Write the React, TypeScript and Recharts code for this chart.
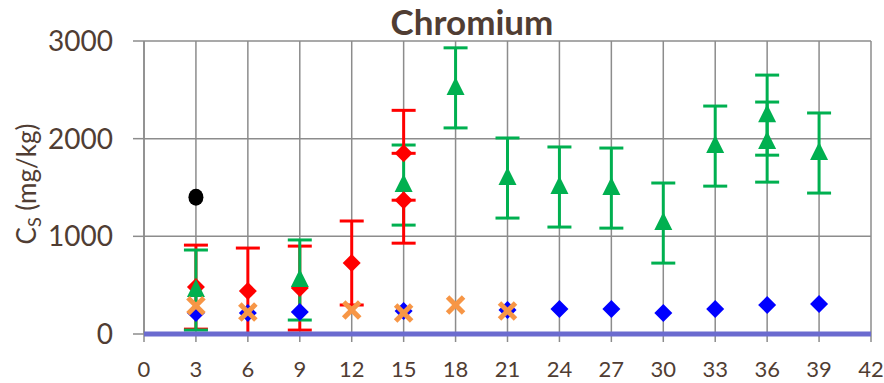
import React from "react";
import { ScatterChart, Scatter, XAxis, YAxis, CartesianGrid, ErrorBar } from "recharts";

const xTicks = [0, 3, 6, 9, 12, 15, 18, 21, 24, 27, 30, 33, 36, 39, 42];
const yTicks = [0, 1000, 2000, 3000];

const zeroX = [0, 42];
const zeroY = [0, 0];

// red error bars as [down, up]
const redX = [3, 6, 9, 12];
const redY = [480, 440, 470, 727];
const redErr = [
  [430, 430],
  [440, 440],
  [430, 430],
  [430, 430],
];

// second red set at day 15, drawn above the green series
const red2X = [15, 15];
const red2Y = [1850, 1370];
const red2Err = [
  [0, 440],
  [440, 0],
];

const greenX = [3, 9, 15, 18, 21, 24, 27, 30, 33, 36, 36, 39];
const greenY = [450, 553, 1525, 2520, 1597, 1505, 1494, 1136, 1924, 2241, 1965, 1853];
const greenErr = [410, 410, 410, 410, 410, 410, 410, 410, 410, 410, 410, 410];

const blueX = [3, 6, 9, 15, 21, 24, 27, 30, 33, 36, 39];
const blueY = [215, 215, 225, 235, 245, 256, 256, 215, 256, 297, 307];

const orangeX = [3, 6, 12, 15, 18, 21];
const orangeY = [290, 225, 245, 215, 297, 235];

const blackX = [3];
const blackY = [1400];

const TEXT = "#503d33";
const GRID = "#8c8c8c";
const FONT = "Lato, 'Open Sans', sans-serif";

const zip = (xs: number[], ys: number[], errs?: any[]) =>
  xs.map((x, i) => ({ x, y: ys[i], err: errs ? errs[i] : 0 }));

const Diamond = (color: string, r: number) => (p: any) => (
  <polygon
    points={`${p.cx},${p.cy - r} ${p.cx + r},${p.cy} ${p.cx},${p.cy + r} ${p.cx - r},${p.cy}`}
    fill={color}
  />
);

const Triangle = (p: any) => (
  <polygon
    points={`${p.cx},${p.cy - 11} ${p.cx + 9},${p.cy + 7} ${p.cx - 9},${p.cy + 7}`}
    fill="#00b050"
  />
);

const Cross = (p: any) => (
  <g stroke="#f79646" strokeWidth={5}>
    <line x1={p.cx - 8} y1={p.cy - 8} x2={p.cx + 8} y2={p.cy + 8} />
    <line x1={p.cx - 8} y1={p.cy + 8} x2={p.cx + 8} y2={p.cy - 8} />
  </g>
);

const Dot = (p: any) => <ellipse cx={p.cx} cy={p.cy} rx={7.5} ry={8.5} fill="#000" />;

const Title = () => (
  <text x={472} y={35} textAnchor="middle" fill={TEXT} fontFamily={FONT} fontWeight={700} fontSize={35}>
    Chromium
  </text>
);

const YLabel = () => (
  <text
    transform="translate(36,184) rotate(-90)"
    textAnchor="middle"
    fill={TEXT}
    fontFamily={FONT}
    fontSize={26}
  >
    C<tspan fontSize={18} dy={5}>S</tspan>
    <tspan dy={-5}> (mg/kg)</tspan>
  </text>
);

export default function App() {
  return (
    <div style={{ position: "absolute", left: 0, top: 0, width: 884, height: 383, background: "#fff" }}>
      <ScatterChart width={884} height={383} margin={{ top: 41, right: 13, bottom: 0, left: 0 }}>
        <CartesianGrid stroke={GRID} strokeWidth={1.5} />
        <XAxis
          type="number"
          dataKey="x"
          domain={[0, 42]}
          ticks={xTicks}
          interval={0}
          height={49}
          tickSize={8}
          tickMargin={19}
          axisLine={{ stroke: GRID, strokeWidth: 1.5 }}
          tickLine={{ stroke: GRID, strokeWidth: 1.5 }}
          tick={{ fill: TEXT, fontSize: 22, fontFamily: FONT }}
        />
        <YAxis
          type="number"
          dataKey="y"
          domain={[0, 3000]}
          ticks={yTicks}
          interval={0}
          width={144}
          tickSize={11}
          tickMargin={20}
          axisLine={{ stroke: GRID, strokeWidth: 1.5 }}
          tickLine={{ stroke: GRID, strokeWidth: 1.5 }}
          tick={{ fill: TEXT, fontSize: 28, fontFamily: FONT }}
        />
        <Scatter
          data={zip(zeroX, zeroY)}
          line={{ stroke: "#6b6bcf", strokeWidth: 5 }}
          shape={() => <g />}
          isAnimationActive={false}
        />
        <Scatter data={zip(redX, redY, redErr)} shape={Diamond("#ff0000", 9)} isAnimationActive={false}>
          <ErrorBar dataKey="err" direction="y" width={12} strokeWidth={3} stroke="#ff0000" isAnimationActive={false} />
        </Scatter>
        <Scatter data={zip(greenX, greenY, greenErr)} shape={Triangle} isAnimationActive={false}>
          <ErrorBar dataKey="err" direction="y" width={12} strokeWidth={3} stroke="#00b050" isAnimationActive={false} />
        </Scatter>
        <Scatter data={zip(red2X, red2Y, red2Err)} shape={Diamond("#ff0000", 9)} isAnimationActive={false}>
          <ErrorBar dataKey="err" direction="y" width={12} strokeWidth={3} stroke="#ff0000" isAnimationActive={false} />
        </Scatter>
        <Scatter data={zip(blueX, blueY)} shape={Diamond("#0000ff", 9)} isAnimationActive={false} />
        <Scatter data={zip(orangeX, orangeY)} shape={Cross} isAnimationActive={false} />
        <Scatter data={zip(blackX, blackY)} shape={Dot} isAnimationActive={false} />
        <Title />
        <YLabel />
      </ScatterChart>
    </div>
  );
}
